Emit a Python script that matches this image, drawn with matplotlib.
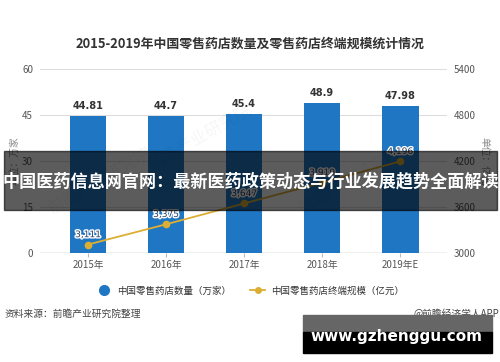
import matplotlib
matplotlib.use('Agg')
import matplotlib.pyplot as plt
import matplotlib.patheffects as pe
from matplotlib.patches import Rectangle
from matplotlib.lines import Line2D

plt.rcParams['font.family'] = ['Noto Sans CJK SC', 'DejaVu Sans']

###### data ######
years = ['2015年', '2016年', '2017年', '2018年', '2019年E']
stores = [44.81, 44.7, 45.4, 48.9, 47.98]          # 万家
market = [3111, 3375, 3647, 3919, 4196]            # 亿元
store_labels = ['44.81', '44.7', '45.4', '48.9', '47.98']
market_labels = ['3,111', '3,375', '3,647', '3,919', '4,196']
left_ticks = [0, 15, 30, 45, 60]
right_ticks = [3000, 3600, 4200, 4800, 5400]

bar_color = '#1f77c4'
line_color = '#dcae32'
grey = '#555555'

fig = plt.figure(figsize=(5, 3.62), dpi=100)
ax = fig.add_axes([0.08, 0.301, 0.814, 0.508])
ax2 = ax.twinx()

x = range(len(years))
ax.bar(x, stores, width=0.47, color=bar_color, zorder=2)
for i, v in enumerate(stores):
    ax.text(i, v + 1.6, store_labels[i], ha='center', va='bottom', fontsize=7,
            fontweight='bold', color='#333333', family='DejaVu Sans')

ax2.plot(x, market, color=line_color, lw=1.3, marker='o', ms=4.5, zorder=3)
for i, v in enumerate(market):
    ax2.text(i, v + 70, market_labels[i], ha='center', va='bottom', fontsize=6.5,
             color='#2b3f63', family='DejaVu Sans',
             path_effects=[pe.withStroke(linewidth=2, foreground='white')])

ax.set_xlim(-0.615, 4.6)
ax.set_ylim(0, 60)
ax2.set_ylim(3000, 5400)
ax.set_yticks(left_ticks)
ax2.set_yticks(right_ticks)
ax.set_xticks(list(x))
ax.set_xticklabels(years)
ax.grid(axis='y', color='#dddddd', lw=0.8, zorder=0)
ax.set_axisbelow(True)
for a in (ax, ax2):
    for s in a.spines.values():
        s.set_visible(False)
ax.axhline(0, color='#bbbbbb', lw=1, zorder=1)
ax.tick_params(axis='y', length=0, labelsize=7, labelcolor=grey, pad=5)
ax2.tick_params(axis='y', length=0, labelsize=7, labelcolor=grey, pad=5)
ax.tick_params(axis='x', length=3, color='#bbbbbb', labelsize=7, labelcolor=grey, pad=2)

ax.set_ylabel('单位：万家', fontsize=7, color='#888888', labelpad=2)
ax2.set_ylabel('单位：亿元', fontsize=7, color='#888888', rotation=270, labelpad=10)

# title
fig.text(0.5, 0.878, '2015-2019年中国零售药店数量及零售药店终端规模统计情况',
         ha='center', va='center', fontsize=9.3, fontweight='bold', color='#333333')

# legend
handles = [Line2D([], [], marker='o', color='none', markerfacecolor=bar_color,
                  markeredgecolor=bar_color, ms=7),
           Line2D([], [], marker='o', color=line_color, lw=1.3, ms=4)]
fig.legend(handles, ['中国零售药店数量（万家）', '中国零售药店终端规模（亿元）'],
           loc='center', bbox_to_anchor=(0.5, 0.196), ncol=2, frameon=False,
           fontsize=6.8, handlelength=1.6, columnspacing=2.0, handletextpad=0.6,
           labelcolor='#333333')

# footer
fig.text(0.01, 0.133, '资料来源：前瞻产业研究院整理', ha='left', va='center',
         fontsize=7, color='#444444')
fig.text(0.998, 0.133, '@前瞻经济学人APP', ha='right', va='center',
         fontsize=7, color='#444444')

# faint watermarks
for wx, wy in [(0.4, 0.62), (0.7, 0.5), (0.2, 0.5)]:
    fig.text(wx, wy, '前瞻产业研究院', rotation=30, fontsize=12, color='#000000',
             alpha=0.04, ha='center', va='center')

# overlay banner
fig.patches.append(Rectangle((0.008, 1 - 210 / 362), 0.986, 59 / 362,
                             transform=fig.transFigure, color='black', alpha=0.64,
                             zorder=10))
fig.text(0.501, 1 - 181 / 362, '中国医药信息网官网：最新医药政策动态与行业发展趋势全面解读',
         ha='center', va='center', fontsize=12.3, fontweight='bold', color='white',
         zorder=11)

# site box
fig.patches.append(Rectangle((303 / 500, 1 - 332 / 362), 189 / 500, 17 / 362,
                             transform=fig.transFigure, color='#666666', zorder=10))
fig.patches.append(Rectangle((303 / 500, 1 - 353 / 362), 189 / 500, 21 / 362,
                             transform=fig.transFigure, color='black', zorder=10))
fig.text(396 / 500, 1 - 337 / 362, 'www.gzhenggu.com', ha='center', va='center',
         fontsize=11, fontweight='bold', color='white', family='DejaVu Sans',
         zorder=11)

fig.savefig('out.png', dpi=100)
